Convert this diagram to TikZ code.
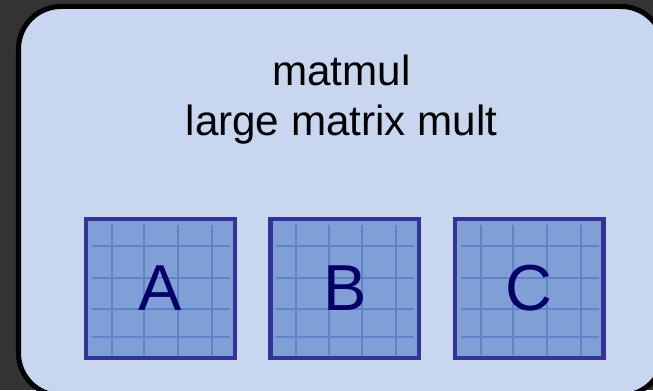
\documentclass[tikz,border=0pt]{standalone}
\usepackage{fontspec}
\setmainfont{Liberation Sans}
\usepackage{tikz}
\usetikzlibrary{positioning}
\definecolor{miGris}{RGB}{51, 51, 51}
\definecolor{miPanel}{RGB}{200, 214, 240}
\definecolor{miTile}{RGB}{128, 159, 214}
\definecolor{miBorde}{RGB}{51, 51, 153}
\definecolor{miGrid}{RGB}{94, 131, 200}
\definecolor{miLetra}{RGB}{0, 0, 102}

\begin{document}
\begin{tikzpicture}[
  every node/.style={align=center},
  panel/.style={draw=black, line width=2.85pt, fill=miPanel, rounded corners=0.85cm},
  title/.style={font=\fontsize{24}{28.5}\selectfont},
  gridline/.style={draw=miGrid, line width=1.2pt},
  tile/.style={draw=miBorde, line width=2.55pt, fill=miTile, inner sep=0pt,
    minimum width=2.97cm, minimum height=2.77cm,
    text=miLetra, font=\fontsize{37}{40}\selectfont,
    path picture={
      \foreach \gx in {0.51,1.16,1.83,2.51}
        \draw[gridline] ([xshift=\gx cm, yshift=-0.11cm]path picture bounding box.north west) -- ++(0,-2.6);
      \foreach \gy in {0.53,1.17,1.79,2.35}
        \draw[gridline] ([xshift=0.11cm, yshift=-\gy cm]path picture bounding box.north west) -- ++(2.76,0);
    }},
]

% Canvas and outer panel
\useasboundingbox (0,0) rectangle (13.06,7.8);
\clip (0,0) rectangle (13.06,7.8);
\fill[miGris] (0,0) rectangle (13.06,7.8);
\draw[panel] (0.37,7.67) rectangle (13.27,-0.11);

% Title
\node[title] (titulo) at (6.83,5.8) {matmul\\large matrix mult};

% Matrix tiles
\node[tile] (matA) at (3.21,2.03) {A};
\node[tile, right=0.63cm of matA] (matB) {B};
\node[tile, right=0.63cm of matB] (matC) {C};

\end{tikzpicture}
\end{document}
